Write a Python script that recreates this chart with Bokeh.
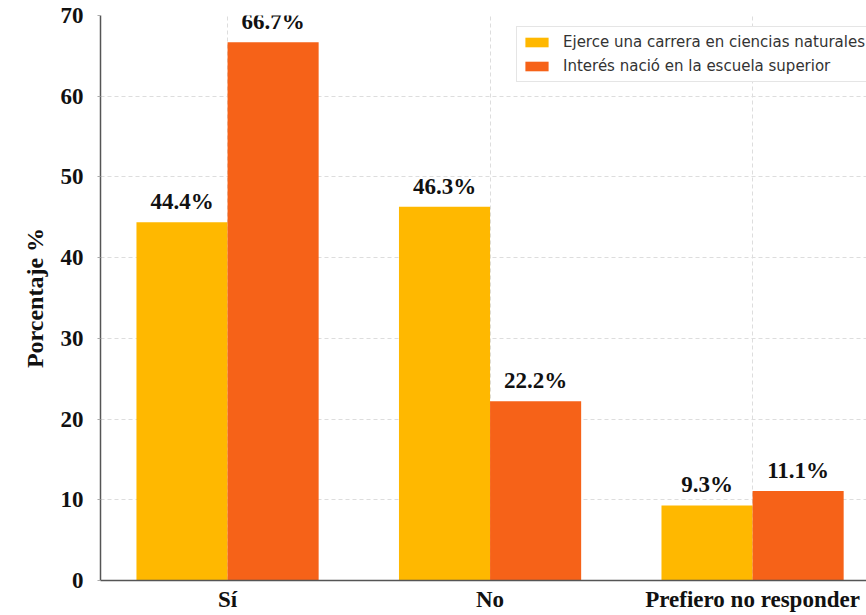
from bokeh.plotting import figure
from bokeh.models import ColumnDataSource, FixedTicker, Range1d, Legend, LegendItem
from bokeh.core.properties import value
from bokeh.embed import file_html
from bokeh.resources import INLINE

categories = ["Sí", "No", "Prefiero no responder"]
series_names = ["Ejerce una carrera en ciencias naturales", "Interés nació en la escuela superior"]
ejerce = [44.4, 46.3, 9.3]
interes = [66.7, 22.2, 11.1]
y_ticks = [0, 10, 20, 30, 40, 50, 60, 70]

colors = ["#FFB800", "#F66218"]
bar_w = 0.347
offsets = [-bar_w / 2, bar_w / 2]

p = figure(width=866, height=615, output_backend="svg", toolbar_location=None,
           x_range=Range1d(-0.484, 2.434), y_range=Range1d(0, 70),
           min_border_left=100, min_border_right=0, min_border_top=15, min_border_bottom=35)
p.outline_line_color = None
p.background_fill_color = "white"
p.border_fill_color = "white"

xs = list(range(len(categories)))
renderers = []
for vals, off, col in zip([ejerce, interes], offsets, colors):
    src = ColumnDataSource(dict(x=[x + off for x in xs], top=vals,
                                lab=[f"{v}%" for v in vals]))
    r = p.vbar(x="x", top="top", width=bar_w, source=src, fill_color=col, line_color=None)
    renderers.append(r)
    p.text(x="x", y="top", text="lab", source=src, text_align="center",
           text_baseline="bottom", y_offset=-8, text_font=value("Liberation Serif"),
           text_font_style="bold", text_font_size="23px", text_color="#111111")

# axes
p.xaxis.ticker = FixedTicker(ticks=xs)
p.xaxis.major_label_overrides = {i: c for i, c in enumerate(categories)}
p.yaxis.ticker = FixedTicker(ticks=y_ticks)
for ax in [p.xaxis[0], p.yaxis[0]]:
    ax.major_label_text_font = "Liberation Serif"
    ax.major_label_text_font_style = "bold"
    ax.major_label_text_font_size = "23px"
    ax.major_label_text_color = "#111111"
    ax.axis_line_color = "#555555"
    ax.axis_line_width = 1.5
    ax.major_tick_line_color = "#aaaaaa"
    ax.major_tick_in = 0
    ax.major_tick_out = 3
    ax.minor_tick_line_color = None
p.xaxis.major_tick_out = 0
p.xaxis.major_label_standoff = 6
p.yaxis.major_label_standoff = 14
p.yaxis.axis_label = "Porcentaje %"
p.yaxis.axis_label_text_font = "Liberation Serif"
p.yaxis.axis_label_text_font_style = "bold"
p.yaxis.axis_label_text_font_size = "24px"
p.yaxis.axis_label_text_color = "#111111"
p.yaxis.axis_label_standoff = 10

p.xgrid.ticker = FixedTicker(ticks=xs)
for g in [p.xgrid[0], p.ygrid[0]]:
    g.grid_line_color = "#dddddd"
    g.grid_line_dash = "4 3"
    g.grid_line_width = 1

legend = Legend(items=[LegendItem(label=n, renderers=[r]) for n, r in zip(series_names, renderers)],
                location=(416, 498))
legend.label_text_font = "DejaVu Sans"
legend.label_text_font_size = "15px"
legend.label_text_color = "#333333"
legend.glyph_width = 29
legend.glyph_height = 12
legend.label_height = 20
legend.spacing = 4
legend.padding = 5
legend.margin = 0
legend.border_line_color = "#cccccc"
legend.border_line_width = 1
legend.background_fill_alpha = 1
legend.label_standoff = 12
p.add_layout(legend)

open("out.html", "w").write(file_html(p, INLINE))
